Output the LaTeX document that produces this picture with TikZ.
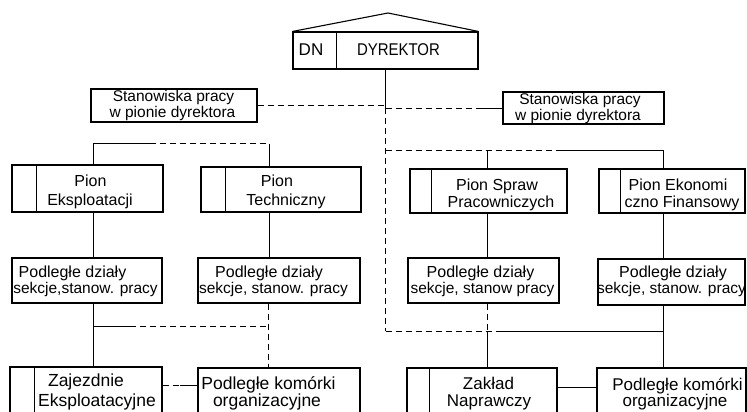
\documentclass[tikz,border=0pt]{standalone}
\usepackage{fontspec}
\setmainfont{Liberation Sans}
\usepackage{graphicx}
\begin{document}
\begin{tikzpicture}[x=1pt,y=-1pt,
  box/.style={draw, line width=1.1pt, inner sep=0pt, rectangle},
  boxline/.style={line width=1.1pt},
  conn/.style={line width=0.8pt},
  faint/.style={line width=0.7pt, dash pattern=on 6pt off 4pt},
  txt/.style={anchor=base, inner sep=0pt, font=\fontsize{16}{18}\selectfont},
  stan/.style={txt, font=\fontsize{15.5}{16}\selectfont},
  sub/.style={txt, font=\fontsize{15.5}{17}\selectfont},
  big/.style={txt, font=\fontsize{17.5}{18}\selectfont},
  bigb/.style={txt, font=\fontsize{17}{18}\selectfont}]
\useasboundingbox (0,0) rectangle (747,412);
\clip (0,0) rectangle (747,412);

% ---- boxes
\node[box, minimum width=185pt, minimum height=37pt] (dyr) at (385.5,50.5) {};
\node[box, minimum width=166pt, minimum height=33pt] (stL) at (174,105.5) {};
\node[box, minimum width=161pt, minimum height=32pt] (stR) at (583.5,108) {};
\node[box, minimum width=151pt, minimum height=47pt] (pE) at (87.5,188.5) {};
\node[box, minimum width=160pt, minimum height=45pt] (pT) at (281,189.5) {};
\node[box, minimum width=157pt, minimum height=44pt] (pS) at (488.5,191) {};
\node[box, minimum width=146pt, minimum height=44pt] (pF) at (672,191) {};
\node[box, minimum width=150pt, minimum height=45pt] (dE) at (87,280.5) {};
\node[box, minimum width=162pt, minimum height=45pt] (dT) at (279,280.5) {};
\node[box, minimum width=151pt, minimum height=45pt] (dS) at (483.5,280.5) {};
\node[box, minimum width=147pt, minimum height=46pt] (dF) at (671.5,282) {};
\node[box, minimum width=152pt, minimum height=63pt] (zE) at (86,398.5) {};
\node[box, minimum width=162pt, minimum height=62pt] (kT) at (279,399) {};
\node[box, minimum width=150pt, minimum height=62pt] (zN) at (482,399) {};
\node[box, minimum width=149pt, minimum height=62pt] (kF) at (671.5,399) {};

% roof and dividers
\coordinate (apex) at (388,13);
\draw[boxline] (dyr.north west) -- (apex) -- (dyr.north east);
\draw[boxline] ([xshift=44pt]dyr.north west) -- ([xshift=44pt]dyr.south west);
\draw[boxline] ([xshift=25pt]pE.north west) -- ([xshift=25pt]pE.south west);
\draw[boxline] ([xshift=25pt]pT.north west) -- ([xshift=25pt]pT.south west);
\draw[boxline] ([xshift=22pt]pS.north west) -- ([xshift=22pt]pS.south west);
\draw[boxline] ([xshift=22pt]pF.north west) -- ([xshift=22pt]pF.south west);
\draw[boxline] ([xshift=25pt]zE.north west) -- ([xshift=25pt]zE.south west);
\draw[boxline] ([xshift=23pt]zN.north west) -- ([xshift=23pt]zN.south west);

% ---- texts
\node[txt, font=\fontsize{17}{17}\selectfont] (tdn) at (311,55.5) {DN};
\node[txt, font=\fontsize{17}{17}\selectfont] (tdy) at (398.5,55.5) {\scalebox{0.88}[1]{DYREKTOR}};
\node[stan] (sl1) at (173.5,102) {Stanowiska pracy};
\node[stan] (sl2) at (172.5,117.5) {w pionie dyrektora};
\node[stan] (sr1) at (580,104.5) {Stanowiska pracy};
\node[stan] (sr2) at (578,120) {w pionie dyrektora};
\node[txt] (pe1) at (90.5,186.7) {Pion};
\node[txt] (pe2) at (90,205) {Eksploatacji};
\node[txt] (pt1) at (277,186.7) {Pion};
\node[txt] (pt2) at (286,205) {Techniczny};
\node[txt] (ps1) at (497,190) {Pion Spraw};
\node[txt] (ps2) at (501,207) {Pracowniczych};
\node[txt] (pf1) at (678,190) {Pion Ekonomi};
\node[txt] (pf2) at (682,207) {czno Finansowy};
\node[txt] (de1) at (72.5,277.3) {Podległe działy};
\node[sub] (de2) at (85.5,293.3) {sekcje,stanow. pracy};
\node[txt] (dt1) at (269,277) {Podległe działy};
\node[sub] (dt2) at (273.5,293) {sekcje, stanow. pracy};
\node[txt] (ds1) at (480.5,277) {Podległe działy};
\node[sub] (ds2) at (482.5,293) {sekcje, stanow pracy};
\node[txt] (df1) at (673,277) {Podległe działy};
\node[sub] (df2) at (671.5,293) {sekcje, stanow. pracy};
\node[big] (ze1) at (86,386.7) {Zajezdnie};
\node[big] (ze2) at (97,406.7) {Eksploatacyjne};
\node[big] (kt1) at (268.5,389) {Podległe komórki};
\node[big] (kt2) at (267,406.7) {organizacyjne};
\node[bigb] (zn1) at (488.5,389.3) {Zakład};
\node[bigb] (zn2) at (489,406.7) {Naprawczy};
\node[bigb] (kf1) at (677.5,390.7) {Podległe komórki};
\node[bigb] (kf2) at (675,406.7) {organizacyjne};

% ---- connectors
\coordinate (tk1) at (385.5,108);
\coordinate (tkB) at (385.5,331);
\draw[conn] (dyr.south) -- (tk1);
\draw[faint] (tk1) -- (tkB);
\draw[faint] (stL.east) -- (stL.east -| dyr.south);
\coordinate (sr0) at (480,108);
\draw[faint] (sr0 -| dyr.south) -- (sr0);
\draw[conn] (sr0) -- (sr0 -| stR.west);

\coordinate (bl1) at (93,143.5);
\coordinate (bl1s) at (150,143.5);
\coordinate (bl2) at (269,143.5);
\draw[conn] (bl1 |- pE.north) -- (bl1) -- (bl1s);
\draw[faint] (bl1s) -- (bl2);
\draw[conn] (bl2) -- (bl2 |- pT.north);

\coordinate (br1) at (487.5,150);
\coordinate (brs) at (557,150);
\coordinate (br2) at (663,150);
\draw[faint] (brs -| dyr.south) -- (brs);
\draw[conn] (brs) -- (br2) -- (br2 |- pF.north);
\draw[conn] (br1) -- (br1 |- pS.north);

\draw[conn] (bl1 |- pE.south) -- (bl1 |- dE.north);
\draw[conn] (bl2 |- pT.south) -- (bl2 |- dT.north);
\draw[conn] (br1 |- pS.south) -- (br1 |- dS.north);
\draw[conn] (br2 |- pF.south) -- (br2 |- dF.north);

\coordinate (ll1) at (93,326);
\coordinate (lls) at (130,326);
\coordinate (ll2) at (268,326);
\draw[conn] (ll1 |- dE.south) -- (ll1 |- zE.north);
\draw[conn] (ll1) -- (lls);
\draw[faint] (lls) -- (ll2);
\draw[faint] (ll2 |- dT.south) -- (ll2 |- kT.north);

\coordinate (lr1) at (487.5,331);
\coordinate (lrs) at (497,331);
\coordinate (lr2) at (663,331);
\draw[faint] (tkB) -- (lrs);
\draw[conn] (lrs) -- (lr2);
\draw[conn] (lr2 |- dF.south) -- (lr2 |- kF.north);
\draw[faint] (lr1 |- dS.south) -- (lr1);
\draw[conn] (lr1) -- (lr1 |- zN.north);

\coordinate (hl) at (180,385.5);
\draw[faint] (hl -| zE.east) -- (hl);
\draw[conn] (hl) -- (hl -| kT.west);
\coordinate (hr) at (577,387);
\draw[conn] (hr -| zN.east) -- (hr -| kF.west);
\end{tikzpicture}
\end{document}
